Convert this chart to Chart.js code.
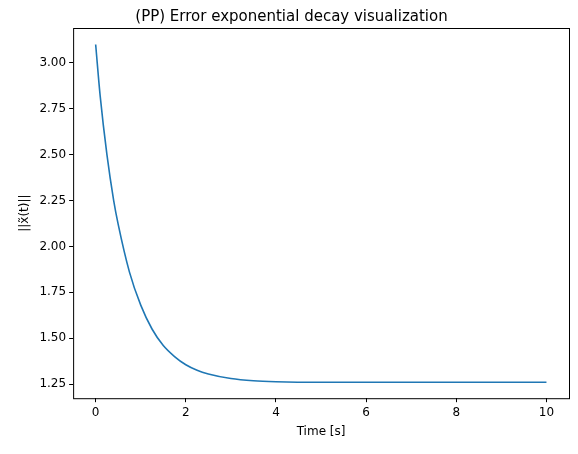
<!DOCTYPE html>
<html>
<head>
<meta charset="utf-8">
<script src="https://cdn.jsdelivr.net/npm/chart.js@4"></script>
<style>
  html, body { margin: 0; padding: 0; background: #fff; }
  #wrap { width: 578px; height: 454px; }
</style>
</head>
<body>
<div id="wrap"><canvas id="chart"></canvas></div>
<script>
// valores
const tiempos = [0, 0.1, 0.25, 0.4, 0.5, 0.75, 1, 1.25, 1.5, 1.75, 2, 2.25, 2.5, 3, 3.5, 4, 5, 6, 7, 8, 9, 10];
const errores = [3.10, 2.82, 2.50, 2.25, 2.12, 1.86, 1.68, 1.55, 1.46, 1.40, 1.355, 1.325, 1.305, 1.28, 1.268, 1.263, 1.26, 1.26, 1.26, 1.26, 1.26, 1.26];
const xTicks = [0, 2, 4, 6, 8, 10];
const yTicks = [1.25, 1.50, 1.75, 2.00, 2.25, 2.50, 2.75, 3.00];

const fuente = 'DejaVu Sans';
Chart.defaults.font.family = fuente;
Chart.defaults.color = '#000';

// marco completo alrededor del área
const marco = {
  id: 'marco',
  afterDraw(chart) {
    const a = chart.chartArea, ctx = chart.ctx;
    ctx.save();
    ctx.strokeStyle = '#000';
    ctx.lineWidth = 1;
    ctx.strokeRect(a.left + 0.5, a.top + 0.5, a.right - a.left, a.bottom - a.top);
    ctx.restore();
  }
};

const ejeComun = {
  grid: { display: true, drawOnChartArea: false, drawTicks: true, tickLength: 4, color: '#000' },
  border: { display: false }
};

new Chart(document.getElementById('chart'), {
  type: 'line',
  data: {
    datasets: [{
      data: tiempos.map((t, i) => ({ x: t, y: errores[i] })),
      borderColor: '#1f77b4',
      borderWidth: 1.6,
      pointRadius: 0,
      cubicInterpolationMode: 'monotone',
      fill: false
    }]
  },
  options: {
    responsive: true,
    maintainAspectRatio: false,
    animation: false,
    layout: { padding: { top: 2, right: 9, left: 14, bottom: 11 } },
    plugins: {
      legend: { display: false },
      tooltip: { enabled: false },
      title: {
        display: true,
        text: '(PP) Error exponential decay visualization',
        font: { size: 15, weight: 'normal' },
        padding: { top: 6, bottom: 2 }
      }
    },
    scales: {
      x: {
        ...ejeComun,
        type: 'linear',
        min: -0.5, max: 10.5,
        afterBuildTicks: ax => { ax.ticks = xTicks.map(v => ({ value: v })); },
        ticks: { font: { size: 12 }, padding: 3, maxRotation: 0, callback: v => v },
        title: { display: true, text: 'Time [s]', font: { size: 12 }, padding: { top: 2 } }
      },
      y: {
        ...ejeComun,
        min: 1.173, max: 3.19,
        afterBuildTicks: ax => { ax.ticks = yTicks.map(v => ({ value: v })); },
        ticks: { font: { size: 12 }, padding: 3, callback: v => v.toFixed(2) },
        title: { display: true, text: '||x̃(t)||', font: { size: 12 }, padding: { bottom: 4 } }
      }
    }
  },
  plugins: [marco]
});
</script>
</body>
</html>
